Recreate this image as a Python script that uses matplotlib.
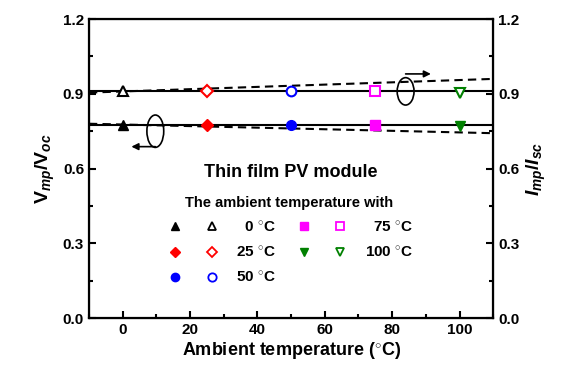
import matplotlib
matplotlib.use('Agg')
import matplotlib.pyplot as plt
from matplotlib.patches import Ellipse
from matplotlib.legend_handler import HandlerTuple
from matplotlib.lines import Line2D
from matplotlib.ticker import FormatStrFormatter

# data
temps = [0, 25, 50, 75, 100]
vmp_voc = [0.775, 0.775, 0.775, 0.775, 0.77]     # left axis, filled markers
imp_isc = [0.91, 0.91, 0.91, 0.91, 0.905]        # right axis, open markers
fit_x = [-10, 110]
vmp_fit = [0.78, 0.742]                          # dashed trend, Vmp/Voc
imp_fit = [0.905, 0.96]                          # dashed trend, Imp/Isc
colors = ['black', 'red', 'blue', 'magenta', 'green']
markers = ['^', 'D', 'o', 's', 'v']
deg = ' $^{\\circ}$C'
labels = ['\u2007' + '0' + deg, '25' + deg, '50' + deg, '\u200775' + deg, '100' + deg]

plt.rcParams['font.family'] = ['Liberation Sans', 'DejaVu Sans']
plt.rcParams['font.weight'] = 'bold'
plt.rcParams['mathtext.fontset'] = 'custom'
plt.rcParams['mathtext.rm'] = 'Liberation Sans:bold'
plt.rcParams['mathtext.it'] = 'Liberation Sans:bold:italic'

fig = plt.figure(figsize=(5.63, 3.75), dpi=100)
ax = fig.add_axes([0.158, 0.152, 0.718, 0.797])
ax2 = ax.twinx()

# trend lines
ax.plot(fit_x, [vmp_voc[0]] * 2, color='black', lw=1.5)
ax.plot(fit_x, [imp_isc[0]] * 2, color='black', lw=1.5)
ax.plot(fit_x, vmp_fit, color='black', lw=1.5, ls=(0, (4, 2.5)))
ax.plot(fit_x, imp_fit, color='black', lw=1.5, ls=(0, (4, 2.5)))

handles = []
for t, v, i, c, m in zip(temps, vmp_voc, imp_isc, colors, markers):
    ms = 7 if m != 'D' else 6.5
    ax.plot(t, v, marker=m, color=c, ms=ms, ls='none', zorder=5)
    ax2.plot(t, i, marker=m, mfc='white', mec=c, mew=1.5, ms=ms, ls='none', zorder=5)
    lms = 6 if m != 'D' else 5.5
    h1 = Line2D([], [], marker=m, color=c, ls='none', ms=lms)
    h2 = Line2D([], [], marker=m, mfc='white', mec=c, mew=1.3, ls='none', ms=lms)
    handles.append((h1, h2))

for a in (ax, ax2):
    a.set_xlim(-10, 110)
    a.set_ylim(0, 1.2)
    a.set_yticks([0, 0.3, 0.6, 0.9, 1.2])
    a.set_yticks([0.15, 0.45, 0.75, 1.05], minor=True)
    a.tick_params(which='both', direction='in', width=1.5, labelsize=11)
    a.tick_params(which='major', length=5)
    a.tick_params(which='minor', length=3)
    a.yaxis.set_major_formatter(FormatStrFormatter('%.1f'))
ax.set_xticks([0, 20, 40, 60, 80, 100])
ax.set_xticks([-10, 10, 30, 50, 70, 90, 110], minor=True)
for s in ax2.spines.values():
    s.set_linewidth(1.6)

ax.set_xlabel('Ambient temperature ($^{\\circ}$C)', fontsize=13, fontweight='bold', labelpad=2)
ax.set_ylabel('V$_{mp}$/V$_{oc}$', fontsize=14, fontweight='bold', labelpad=4)
ax2.set_ylabel('$I_{mp}$/$I_{sc}$', fontsize=14, fontweight='bold', labelpad=4)

# ellipses and arrows pointing to the axes
ax.add_patch(Ellipse((84, 0.91), 5, 0.11, fill=False, lw=1.2, color='black', zorder=6))
ax.annotate('', xy=(91.5, 0.98), xytext=(84, 0.98),
            arrowprops=dict(arrowstyle='-|>', lw=1.2, color='black', shrinkA=0, shrinkB=0))
ax.add_patch(Ellipse((9.7, 0.75), 5, 0.13, fill=False, lw=1.2, color='black', zorder=6))
ax.annotate('', xy=(2.6, 0.688), xytext=(9.7, 0.688),
            arrowprops=dict(arrowstyle='-|>', lw=1.2, color='black', shrinkA=0, shrinkB=0))

ax.text(0.5, 0.488, 'Thin film PV module', transform=ax.transAxes, ha='center',
        va='center', fontsize=13, fontweight='bold')
leg = ax.legend(handles, labels, ncol=2, loc='upper left', bbox_to_anchor=(0.176, 0.43),
                title='The ambient temperature with', frameon=False, fontsize=11,
                title_fontproperties={'weight': 'bold', 'size': 10.5},
                handler_map={tuple: HandlerTuple(ndivide=None, pad=1.2)},
                handlelength=3.6, columnspacing=1.2, labelspacing=0.7, handletextpad=1.0,
                borderaxespad=0)

fig.savefig('out.png', dpi=100)
